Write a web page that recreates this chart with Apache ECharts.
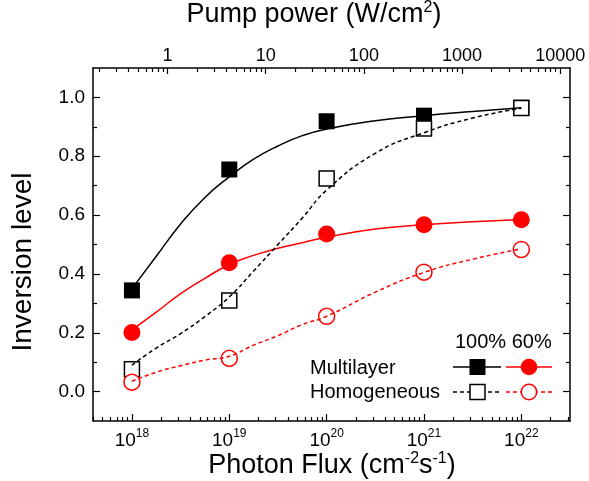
<!DOCTYPE html>
<html>
<head>
<meta charset="utf-8">
<script src="https://cdn.jsdelivr.net/npm/echarts@6/dist/echarts.min.js"></script>
<style>
html,body{margin:0;padding:0;background:#fff;}
#chart{width:589px;height:481px;}
</style>
</head>
<body>
<div id="chart"></div>
<script>
// measured points, x = log10(photon flux)
var fluxExp  = [18, 19, 20, 21, 22];
var multi100 = [0.344, 0.755, 0.919, 0.938, 0.965];
var multi60  = [0.201, 0.438, 0.536, 0.567, 0.584];
var homo100  = [0.076, 0.310, 0.724, 0.894, 0.964];
var homo60   = [0.032, 0.113, 0.256, 0.406, 0.483];

// fitted curves
var fitExp      = [18, 18.25, 18.5, 18.75, 19, 19.25, 19.5, 19.75, 20, 20.5, 21, 21.5, 22];
var fitMulti100 = [0.35, 0.46, 0.57, 0.66, 0.73, 0.79, 0.835, 0.87, 0.893, 0.921, 0.938, 0.952, 0.965];
var fitMulti60  = [0.21, 0.27, 0.333, 0.385, 0.432, 0.463, 0.487, 0.506, 0.525, 0.553, 0.567, 0.577, 0.585];
var fitHomo100  = [0.09, 0.148, 0.197, 0.255, 0.322, 0.41, 0.50, 0.59, 0.685, 0.81, 0.88, 0.93, 0.963];
var fitHomo60   = [0.035, 0.066, 0.088, 0.107, 0.12, 0.158, 0.19, 0.228, 0.256, 0.338, 0.405, 0.45, 0.485];

// ticks
var fluxTicks = [18, 19, 20, 21, 22];
var pumpTicks = [0, 1, 2, 3, 4];
var pumpLabels = ['1', '10', '100', '1000', '10000'];
var invTicks = [0, 0.2, 0.4, 0.6, 0.8, 1.0];
var invMinor = [0.1, 0.3, 0.5, 0.7, 0.9];

var FONT = '"Liberation Sans", Arial, sans-serif';

function logMinor(lo, hi){
	var out = [];
	for (var d = Math.floor(lo) - 1; d <= Math.ceil(hi); d++) {
		for (var k = 2; k <= 9; k++) {
			var v = d + Math.log10(k);
			if (v > lo && v < hi) out.push(v);
		}
	}
	return out;
}
function zip(xs, ys){
	return xs.map(function(x, i){ return [x, ys[i]]; });
}

var xMin = 17.6, xMax = 22.5;
var pMin = -0.76, pMax = 4.10;

function hAxis(pos, min, max, ticks, len, label){
	return {
		type: 'value', position: pos, min: min, max: max,
		splitLine: {show: false},
		axisLine: {show: !!label, onZero: false, lineStyle: {color: '#000', width: 1.5}},
		axisTick: {show: true, inside: true, length: len, customValues: ticks, lineStyle: {color: '#000', width: 1.2}},
		axisLabel: label || {show: false}
	};
}
function vAxis(pos, ticks, len, line, label){
	return {
		type: 'value', position: pos, min: -0.1, max: 1.1,
		splitLine: {show: false},
		axisLine: {show: line, onZero: false, lineStyle: {color: '#000', width: 1.5}},
		axisTick: {show: true, inside: true, length: len, customValues: ticks, lineStyle: {color: '#000', width: 1.2}},
		axisLabel: label || {show: false}
	};
}

var myChart = echarts.init(document.getElementById('chart'));
var option = {
	backgroundColor: '#fff',
	animation: false,
	textStyle: {fontFamily: FONT},
	grid: {left: 93, top: 68, width: 477, height: 353, containLabel: false},
	xAxis: [
		hAxis('bottom', xMin, xMax, fluxTicks, 7, {
			show: true, customValues: fluxTicks, margin: 7,
			formatter: function(v){ return '{b|10}{s|' + Math.round(v) + '}'; },
			rich: {
				b: {fontSize: 19, lineHeight: 22, color: '#000', fontFamily: FONT, verticalAlign: 'bottom'},
				s: {fontSize: 12, lineHeight: 12, color: '#000', fontFamily: FONT, verticalAlign: 'top'}
			}
		}),
		hAxis('bottom', xMin, xMax, logMinor(xMin, xMax), 4, null),
		hAxis('top', pMin, pMax, pumpTicks, 6, {
			show: true, customValues: pumpTicks, margin: 3,
			fontSize: 18, color: '#000', fontFamily: FONT,
			formatter: function(v){ return pumpLabels[pumpTicks.indexOf(Math.round(v))]; }
		}),
		hAxis('top', pMin, pMax, logMinor(pMin, pMax), 4, null)
	],
	yAxis: [
		vAxis('left', invTicks, 7, true, {
			customValues: invTicks, margin: 8, fontSize: 19, color: '#000', fontFamily: FONT,
			formatter: function(v){ return v.toFixed(1); }
		}),
		vAxis('left', invMinor, 4, false, null),
		vAxis('right', invTicks, 7, true, null),
		vAxis('right', invMinor, 4, false, null)
	],
	series: [
		{type: 'line', data: zip(fitExp, fitMulti100), smooth: true, showSymbol: false,
			lineStyle: {color: '#000', width: 1.5}},
		{type: 'line', data: zip(fitExp, fitMulti60), smooth: true, showSymbol: false,
			lineStyle: {color: '#ff0000', width: 1.5}},
		{type: 'line', data: zip(fitExp, fitHomo100), smooth: true, showSymbol: false,
			lineStyle: {color: '#000', width: 1.5, type: [4, 3]}},
		{type: 'line', data: zip(fitExp, fitHomo60), smooth: true, showSymbol: false,
			lineStyle: {color: '#ff0000', width: 1.5, type: [4, 3]}},
		{type: 'scatter', data: zip(fluxExp, multi100), symbol: 'rect', symbolSize: 16,
			itemStyle: {color: '#000', opacity: 1}},
		{type: 'scatter', data: zip(fluxExp, multi60), symbol: 'circle', symbolSize: 17,
			itemStyle: {color: '#ff0000', opacity: 1}},
		{type: 'scatter', data: zip(fluxExp, homo100), symbol: 'rect', symbolSize: 15,
			itemStyle: {color: '#fff', borderColor: '#000', borderWidth: 1.5, opacity: 1}},
		{type: 'scatter', data: zip(fluxExp, homo60), symbol: 'circle', symbolSize: 16,
			itemStyle: {color: '#fff', borderColor: '#ff0000', borderWidth: 1.5, opacity: 1}}
	],
	graphic: [
		{type: 'text', x: 314, y: 14, style: {
			text: '{a|Pump power (W/cm}{s|2}{a|)}', align: 'center', verticalAlign: 'middle',
			rich: {
				a: {fontSize: 27, lineHeight: 28, fill: '#000', fontFamily: FONT, verticalAlign: 'bottom'},
				s: {fontSize: 16, lineHeight: 16, fill: '#000', fontFamily: FONT, verticalAlign: 'top'}
			}}},
		{type: 'text', x: 332, y: 465, style: {
			text: '{a|Photon Flux (cm}{s|-2}{a|s}{s|-1}{a|)}', align: 'center', verticalAlign: 'middle',
			rich: {
				a: {fontSize: 27, lineHeight: 28, fill: '#000', fontFamily: FONT, verticalAlign: 'bottom'},
				s: {fontSize: 16, lineHeight: 16, fill: '#000', fontFamily: FONT, verticalAlign: 'top'}
			}}},
		{type: 'text', x: 23, y: 262, rotation: Math.PI / 2, style: {
			text: 'Inversion level', align: 'center', verticalAlign: 'middle',
			fontSize: 28, fill: '#000', fontFamily: FONT}},
		// legend
		{type: 'text', x: 455, y: 342, style: {text: '100% 60%', fontSize: 20, fill: '#000',
			fontFamily: FONT, align: 'left', verticalAlign: 'middle'}},
		{type: 'text', x: 310, y: 368, style: {text: 'Multilayer', fontSize: 20, fill: '#000',
			fontFamily: FONT, align: 'left', verticalAlign: 'middle'}},
		{type: 'text', x: 310, y: 392, style: {text: 'Homogeneous', fontSize: 20, fill: '#000',
			fontFamily: FONT, align: 'left', verticalAlign: 'middle'}},
		{type: 'line', shape: {x1: 453, y1: 367, x2: 501, y2: 367}, style: {stroke: '#000', lineWidth: 1.5}},
		{type: 'rect', shape: {x: 469.5, y: 359, width: 16, height: 16}, style: {fill: '#000'}},
		{type: 'line', shape: {x1: 506, y1: 367, x2: 552, y2: 367}, style: {stroke: '#ff0000', lineWidth: 1.5}},
		{type: 'circle', shape: {cx: 529, cy: 367, r: 8.3}, style: {fill: '#ff0000'}},
		{type: 'line', shape: {x1: 453, y1: 392, x2: 501, y2: 392}, style: {stroke: '#000', lineWidth: 1.5, lineDash: [4, 3]}},
		{type: 'rect', shape: {x: 470, y: 384.5, width: 15, height: 15}, style: {fill: '#fff', stroke: '#000', lineWidth: 1.5}},
		{type: 'line', shape: {x1: 506, y1: 392, x2: 552, y2: 392}, style: {stroke: '#ff0000', lineWidth: 1.5, lineDash: [4, 3]}},
		{type: 'circle', shape: {cx: 529, cy: 392, r: 7.7}, style: {fill: '#fff', stroke: '#ff0000', lineWidth: 1.5}}
	]
};
myChart.setOption(option);
</script>
</body>
</html>
